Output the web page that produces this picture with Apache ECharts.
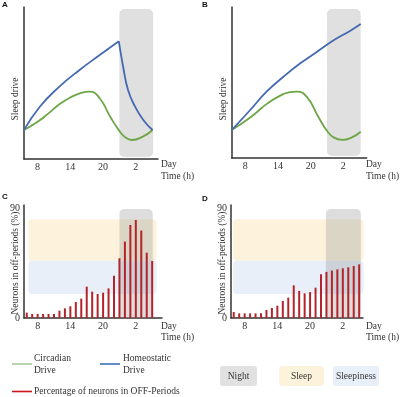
<!DOCTYPE html>
<html>
<head>
<meta charset="utf-8">
<script src="https://cdn.jsdelivr.net/npm/echarts@6/dist/echarts.min.js"></script>
<style>
  html, body { margin: 0; padding: 0; background: #fff; }
  #chart { width: 400px; height: 397px; }
</style>
</head>
<body>
<div id="chart"></div>
<script>
// hour ticks (26 = 2 am next day)
var tickHours = [8, 14, 20, 26];

// panel A - homeostatic drive rises then dissipates during night
var blueRiseA_h = [5.5, 8.4, 12.0, 15.7, 19.4, 22.9];
var blueRiseA_v = [19, 34.4, 47.6, 58.6, 68.4, 77.5];
var blueFallA_h = [22.9, 23.7, 24.6, 25.9, 27.4, 29.1];
var blueFallA_v = [77.5, 60.7, 45.4, 34.4, 25.7, 19.1];
var greenA_h = [5.5, 8, 10, 12, 14, 16, 17.6, 19.4, 21.3, 23, 24.2, 25.3, 27.3, 29.1];
var greenA_v = [19.1, 24.5, 30, 36, 40.5, 43.5, 44.3, 40, 28, 18.5, 14, 12.5, 14.7, 19.1];

// panel B - no sleep, homeostatic drive keeps rising
var blueB_h = [5.5, 8.9, 11.9, 15, 18.1, 21.2, 24.3, 27.3, 29.2];
var blueB_v = [18.5, 31.8, 43.9, 53.8, 62.7, 70.4, 78.1, 84.3, 88.7];
var greenB_h = [5.5, 8, 10, 12, 14, 16, 17.5, 19.4, 21.3, 23, 24.3, 25.8, 27.5, 29.2];
var greenB_v = [18.5, 24.5, 30, 36, 40.5, 43.5, 44, 40, 28, 18, 13.5, 12, 13.5, 17.4];

// panels C and D - % neurons in off-periods per hour
var barHours = [6, 7, 8, 9, 10, 11, 12, 13, 14, 15, 16, 17, 18, 19, 20, 21, 22, 23, 24, 25, 26, 27, 28, 29];
var offC = [4.4, 3.3, 3.3, 3.3, 3.3, 3.3, 6, 7.9, 9.6, 13.1, 15.9, 25.7, 21.6, 19.7, 20.8, 24.3, 34.7, 49, 62.7, 76.3, 80.4, 71.7, 53.6, 46.8];
var offD = [4.9, 3.8, 3.8, 3.8, 3.8, 3.8, 6.6, 8.2, 10.1, 14, 16.7, 26.8, 22.2, 20.2, 21.3, 24.9, 35.8, 37.8, 38.9, 39.9, 40.8, 41.6, 42.7, 44];

// shaded ranges [x0, x1, y0, y1]
var nightAB = [[23, 29.2, 1.3, 98.7]];
var nightC = [[23, 29.1, 0, 89.5]];
var nightD = [[22.9, 29.3, 0, 89.5]];
var sleepC = [[6.3, 29.8, 47, 81]];
var sleepinessC = [[6.3, 29.8, 19.7, 47]];
var sleepD = [[5.9, 29.8, 47, 81]];
var sleepinessD = [[5.9, 29.8, 19.7, 47]];

var serif = 'Liberation Serif';
var fs = 9.5;
var txt = '#333';
var blue = '#4569b1';
var green = '#6ea546';
var red = '#b3242a';

function zip(a, b) {
  var out = [];
  for (var i = 0; i < a.length; i++) out.push([a[i], b[i]]);
  return out;
}

function xAx(gi, max) {
  return {
    type: 'value', gridIndex: gi, min: 5.5, max: max,
    axisLine: { show: true, lineStyle: { color: '#333', width: 1.5 } },
    axisTick: { show: false },
    splitLine: { show: false },
    axisLabel: {
      customValues: tickHours,
      formatter: function (v) { return String(v % 24); },
      fontFamily: serif, fontSize: 10, color: txt, margin: 3
    }
  };
}

function yAx(gi, max, labels) {
  return {
    type: 'value', gridIndex: gi, min: 0, max: max,
    axisLine: { show: true, lineStyle: { color: '#333', width: 1.5 } },
    axisTick: { show: false },
    splitLine: { show: false },
    axisLabel: labels ? {
      customValues: labels, fontFamily: serif, fontSize: 10, color: txt, margin: 4
    } : { show: false }
  };
}

function rects(gi, data, color, r, z) {
  return {
    type: 'custom', xAxisIndex: gi, yAxisIndex: gi, z: z, silent: true,
    encode: { x: [0, 1], y: [2, 3] },
    data: data,
    renderItem: function (params, api) {
      var p0 = api.coord([api.value(0), api.value(3)]);
      var p1 = api.coord([api.value(1), api.value(2)]);
      return {
        type: 'rect',
        shape: { x: p0[0], y: p0[1], width: p1[0] - p0[0], height: p1[1] - p0[1], r: r },
        style: { fill: color }
      };
    }
  };
}

function line(gi, h, v, color) {
  return {
    type: 'line', xAxisIndex: gi, yAxisIndex: gi, z: 3,
    data: zip(h, v), smooth: true, showSymbol: false,
    lineStyle: { color: color, width: 1.8 }
  };
}

function bars(gi, v) {
  return {
    type: 'bar', xAxisIndex: gi, yAxisIndex: gi, z: 3,
    data: zip(barHours, v), barWidth: 2,
    itemStyle: { color: red }
  };
}

function t(x, y, s, opt) {
  var st = { text: s, fontFamily: serif, fontSize: fs, fill: txt, textAlign: 'left', textVerticalAlign: 'middle' };
  for (var k in opt) st[k] = opt[k];
  return { type: 'text', x: x, y: y, style: st };
}

function vt(x, y, s) {
  return {
    type: 'text', x: x, y: y, rotation: Math.PI / 2,
    style: { text: s, fontFamily: serif, fontSize: fs, fill: txt, textAlign: 'center', textVerticalAlign: 'middle' }
  };
}

function letter(x, y, s) {
  return t(x, y, s, { fontFamily: 'Liberation Sans', fontWeight: 'bold', fontSize: 8, fill: '#111', textAlign: 'center' });
}

function seg(x1, x2, y, color) {
  return { type: 'line', shape: { x1: x1, y1: y, x2: x2, y2: y }, style: { stroke: color, lineWidth: 1.6 } };
}

function box(x, y, w, h, fill, s) {
  return [
    { type: 'rect', shape: { x: x, y: y, width: w, height: h, r: 3 }, style: { fill: fill } },
    t(x + w / 2, y + h / 2, s, { textAlign: 'center' })
  ];
}

var graphics = [
  letter(5, 5, 'A'), letter(205, 5, 'B'), letter(5, 197, 'C'), letter(205, 199, 'D'),
  vt(15.5, 99, 'Sleep drive'), vt(223, 99, 'Sleep drive'),
  vt(15, 263, 'Neurons in off-periods (%)'), vt(222.5, 263, 'Neurons in off-periods (%)'),
  t(161, 164, 'Day'), t(161, 176, 'Time (h)'),
  t(366, 164, 'Day'), t(366, 176, 'Time (h)'),
  t(161, 326, 'Day'), t(161, 337, 'Time (h)'),
  t(366, 326, 'Day'), t(366, 337, 'Time (h)'),
  seg(12, 32, 364, '#a9c79a'), t(34, 358, 'Circadian'), t(34, 370, 'Drive'),
  seg(100, 120, 364, '#3a72b6'), t(123, 358, 'Homeostatic'), t(123, 370, 'Drive'),
  seg(12, 32, 391.5, '#c8151e'), t(34, 391.5, 'Percentage of neurons in OFF-Periods')
].concat(
  box(220, 366, 37, 20, '#e1e1e1', 'Night'),
  box(279, 366, 45, 20, '#fdf3dc', 'Sleep'),
  box(333, 366, 46, 20, '#e8eff9', 'Sleepiness')
);

var chart = echarts.init(document.getElementById('chart'));
chart.setOption({
  animation: false,
  backgroundColor: '#fff',
  grid: [
    { left: 24, top: 7, width: 134, height: 152 },
    { left: 231.7, top: 7, width: 135, height: 151 },
    { left: 24, top: 205, width: 138, height: 113 },
    { left: 231, top: 205, width: 132, height: 113 }
  ],
  xAxis: [xAx(0, 30.1), xAx(1, 30.3), xAx(2, 30.8), xAx(3, 29.7)],
  yAxis: [yAx(0, 100), yAx(1, 100), yAx(2, 92.7, [0, 90]), yAx(3, 92.7, [0, 90])],
  graphic: graphics,
  series: [
    rects(0, nightAB, '#e0e0e0', 5, 1),
    rects(1, nightAB, '#e0e0e0', 5, 1),
    rects(2, sleepC, '#fdf3dc', 4, 1),
    rects(2, sleepinessC, '#e8eff9', 4, 1),
    rects(2, nightC, 'rgba(150,150,150,0.32)', 5, 2),
    rects(3, sleepD, '#fdf3dc', 4, 1),
    rects(3, sleepinessD, '#e8eff9', 4, 1),
    rects(3, nightD, 'rgba(150,150,150,0.32)', 5, 2),
    line(0, greenA_h, greenA_v, green),
    line(0, blueRiseA_h, blueRiseA_v, blue),
    line(0, blueFallA_h, blueFallA_v, blue),
    line(1, greenB_h, greenB_v, green),
    line(1, blueB_h, blueB_v, blue),
    bars(2, offC),
    bars(3, offD)
  ]
});
</script>
</body>
</html>
